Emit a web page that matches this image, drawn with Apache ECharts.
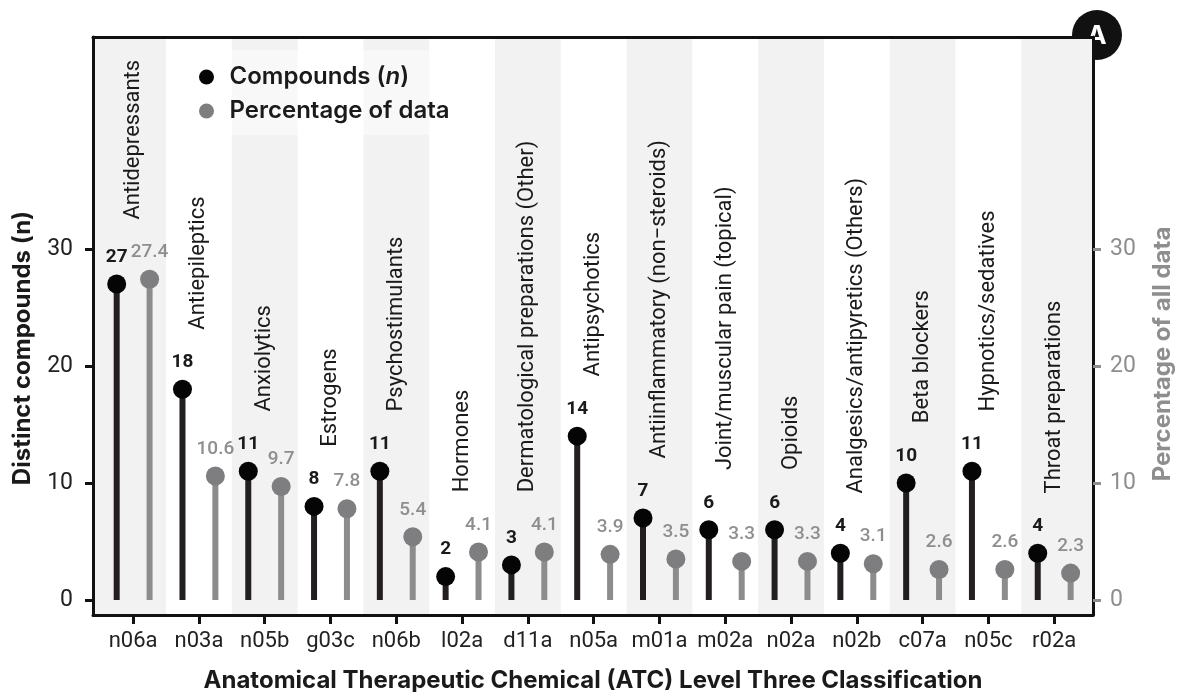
<!DOCTYPE html>
<html>
<head>
<meta charset="utf-8">
<script src="https://cdn.jsdelivr.net/npm/echarts@6/dist/echarts.min.js"></script>
<style>
  html, body { margin: 0; padding: 0; background: #fff; }
  #chart { width: 1179px; height: 692px; }
</style>
</head>
<body>
<div id="chart"></div>
<script>
const categories = ["n06a", "n03a", "n05b", "g03c", "n06b", "l02a", "d11a", "n05a", "m01a", "m02a", "n02a", "n02b", "c07a", "n05c", "r02a"];
const classNames = [
  "Antidepressants", "Antiepileptics", "Anxiolytics", "Estrogens", "Psychostimulants",
  "Hormones", "Dermatological preparations (Other)", "Antipsychotics",
  "Antiinflammatory (non\u2212steroids)", "Joint/muscular pain (topical)", "Opioids",
  "Analgesics/antipyretics (Others)", "Beta blockers", "Hypnotics/sedatives", "Throat preparations"
];
const compounds = [27, 18, 11, 8, 11, 2, 3, 14, 7, 6, 6, 4, 10, 11, 4];
const percentages = [27.4, 10.6, 9.7, 7.8, 5.4, 4.1, 4.1, 3.9, 3.5, 3.3, 3.3, 3.1, 2.6, 2.6, 2.3];
const yTicks = [0, 10, 20, 30];

const X_MIN = -0.61, X_MAX = 14.59;
const Y_MIN = -1.28, Y_MAX = 48.1;
const LABEL_LIFT = 5.1; // class name starts this far above the taller lollipop
const FONT = "Roboto";
const TITLE_FONT = "Inter";

const chart = echarts.init(document.getElementById("chart"), null, { renderer: "canvas" });

// alternating grey bands behind the even categories
const bandSeries = {
  type: "custom",
  silent: true,
  z: 1,
  data: categories.map((c, i) => [i]).filter((d) => d[0] % 2 === 0),
  renderItem: (params, api) => {
    const i = api.value(0);
    const x0 = i === 0 ? X_MIN : i - 0.5;
    const x1 = i === categories.length - 1 ? X_MAX : i + 0.5;
    const a = api.coord([x0, Y_MAX]);
    const b = api.coord([x1, Y_MIN]);
    return {
      type: "rect",
      shape: { x: a[0], y: a[1], width: b[0] - a[0], height: b[1] - a[1] },
      style: { fill: "#f2f2f2" },
    };
  },
};

const lollipop = (name, values, offset, dotColor, stemColor, labelColor, labelWeight) => ({
  name,
  type: "custom",
  z: 3,
  itemStyle: { color: dotColor },
  data: values.map((v, i) => [i + offset, v]),
  renderItem: (params, api) => {
    const x = api.value(0);
    const v = api.value(1);
    const top = api.coord([x, v]);
    const base = api.coord([x, 0]);
    return {
      type: "group",
      children: [
        {
          type: "rect",
          shape: { x: top[0] - 3, y: top[1], width: 6, height: base[1] - top[1] },
          style: { fill: stemColor },
        },
        {
          type: "circle",
          shape: { cx: top[0], cy: top[1], r: 9.5 },
          style: { fill: dotColor },
        },
        {
          type: "text",
          x: top[0],
          y: top[1] - 27,
          style: {
            text: String(v),
            fill: labelColor,
            fontFamily: FONT,
            fontSize: 19,
            fontWeight: labelWeight,
            textAlign: "center",
            textVerticalAlign: "middle",
          },
        },
      ],
    };
  },
});

const classSeries = {
  type: "custom",
  silent: true,
  z: 3,
  data: categories.map((c, i) => [i, Math.max(compounds[i], percentages[i])]),
  renderItem: (params, api) => {
    const i = api.value(0);
    const p = api.coord([i, api.value(1) + LABEL_LIFT]);
    return {
      type: "text",
      x: p[0],
      y: p[1],
      rotation: Math.PI / 2,
      style: {
        text: classNames[i],
        fill: "#1a1a1a",
        fontFamily: FONT,
        fontSize: 22,
        textAlign: "left",
        textVerticalAlign: "middle",
      },
    };
  },
};

const frameLine = { show: true, onZero: false, lineStyle: { color: "#111111", width: 3 } };

const option = {
  animation: false,
  backgroundColor: "#ffffff",
  grid: { left: 93, right: 86, top: 37, bottom: 77, outerBoundsMode: "none" },
  legend: {
    orient: "vertical",
    left: 199,
    top: 64,
    padding: 0,
    itemWidth: 36,
    itemHeight: 15,
    itemGap: 8,
    icon: "circle",
    data: ["Compounds (n)", "Percentage of data"],
    formatter: (name) => (name === "Compounds (n)" ? "Compounds ({it|n})" : name),
    textStyle: {
      fontFamily: TITLE_FONT,
      fontSize: 24,
      fontWeight: 600,
      color: "#1a1a1a",
      lineHeight: 26,
      rich: {
        it: { fontFamily: TITLE_FONT, fontSize: 24, fontWeight: 600, fontStyle: "italic", color: "#1a1a1a", lineHeight: 26 },
      },
    },
  },
  xAxis: [
    {
      type: "value",
      min: X_MIN,
      max: X_MAX,
      position: "bottom",
      z: 5,
      name: "Anatomical Therapeutic Chemical (ATC) Level Three Classification",
      nameLocation: "middle",
      nameGap: 54,
      nameTextStyle: { fontFamily: TITLE_FONT, fontSize: 24, fontWeight: "bold", color: "#1a1a1a" },
      axisLine: frameLine,
      splitLine: { show: false },
      axisTick: {
        show: true,
        length: 9,
        customValues: categories.map((c, i) => i),
        lineStyle: { color: "#111111", width: 3 },
      },
      axisLabel: {
        customValues: categories.map((c, i) => i),
        formatter: (v) => categories[v],
        margin: 15,
        fontFamily: FONT,
        fontSize: 22,
        color: "#222222",
      },
    },
    {
      type: "value",
      min: X_MIN,
      max: X_MAX,
      position: "top",
      z: 5,
      axisLine: frameLine,
      splitLine: { show: false },
      axisTick: { show: false },
      axisLabel: { show: false },
    },
  ],
  yAxis: [
    {
      type: "value",
      min: Y_MIN,
      max: Y_MAX,
      position: "left",
      z: 5,
      name: "Distinct compounds (n)",
      nameLocation: "middle",
      nameGap: 58,
      nameTextStyle: { fontFamily: TITLE_FONT, fontSize: 24, fontWeight: "bold", color: "#1a1a1a", padding: [0, 44, 0, 0] },
      axisLine: frameLine,
      splitLine: { show: false },
      axisTick: { show: true, length: 8, customValues: yTicks, lineStyle: { color: "#111111", width: 3 } },
      axisLabel: { customValues: yTicks, margin: 20, fontFamily: FONT, fontSize: 23, color: "#222222" },
    },
    {
      type: "value",
      min: Y_MIN,
      max: Y_MAX,
      position: "right",
      z: 5,
      name: "Percentage of all data",
      nameLocation: "middle",
      nameGap: 58,
      nameRotate: 90,
      nameTextStyle: { fontFamily: TITLE_FONT, fontSize: 24, fontWeight: "bold", color: "#8e8e8e", padding: [0, 56, 0, 0] },
      axisLine: frameLine,
      splitLine: { show: false },
      axisTick: { show: true, length: 8, customValues: yTicks, lineStyle: { color: "#8e8e8e", width: 3 } },
      axisLabel: { customValues: yTicks, margin: 17, fontFamily: FONT, fontSize: 23, color: "#8e8e8e" },
    },
  ],
  graphic: [
    {
      type: "rect",
      z: 2,
      silent: true,
      shape: { x: 185, y: 50, width: 244, height: 85 },
      style: { fill: "rgba(255,255,255,0.45)" },
    },
    {
      type: "group",
      z: 100,
      children: [
        { type: "circle", shape: { cx: 1097, cy: 35, r: 25 }, style: { fill: "#111111" } },
        {
          type: "text",
          x: 1097,
          y: 36,
          style: {
            text: "A",
            fill: "#ffffff",
            fontFamily: TITLE_FONT,
            fontSize: 26,
            fontWeight: "bold",
            textAlign: "center",
            textVerticalAlign: "middle",
          },
        },
      ],
    },
  ],
  series: [
    bandSeries,
    classSeries,
    lollipop("Compounds (n)", compounds, -0.25, "#050505", "#231f20", "#1a1a1a", "bold"),
    lollipop("Percentage of data", percentages, 0.25, "#7e7e80", "#8c8c8c", "#8e8e8e", 500),
  ],
};

chart.setOption(option);
</script>
</body>
</html>
